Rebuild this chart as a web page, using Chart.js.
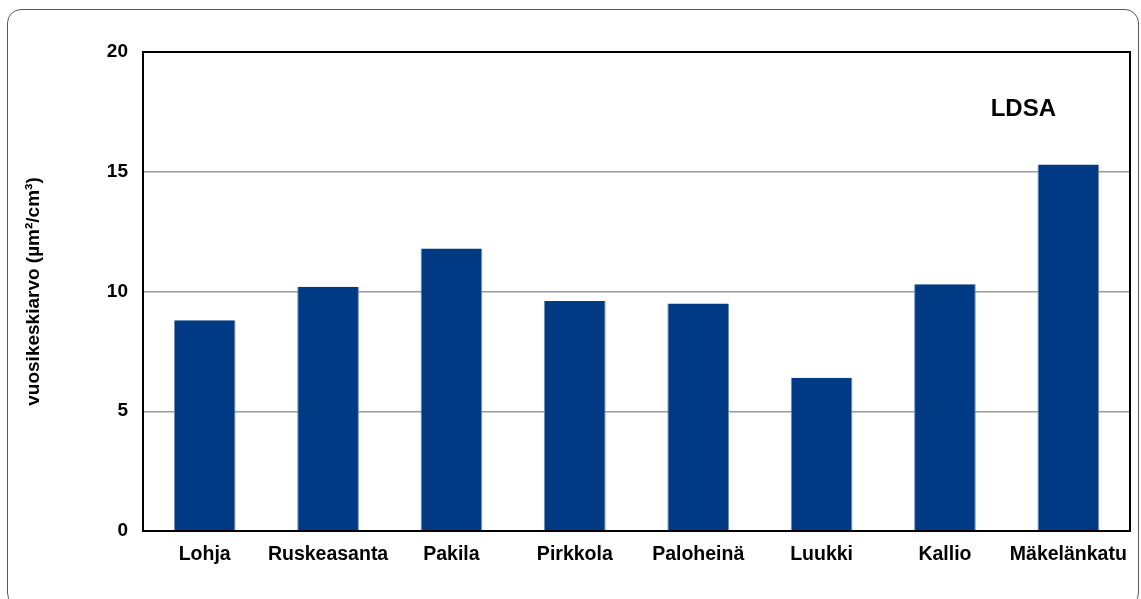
<!DOCTYPE html>
<html lang="fi">
<head>
    <meta charset="UTF-8">
    <title>LDSA vuosikeskiarvo</title>
    <script src="https://cdn.jsdelivr.net/npm/chart.js"></script>
    <style>
        html, body { margin: 0; padding: 0; background: #fff; }
        .wrap { position: relative; width: 1141px; height: 599px; overflow: hidden; }
        .frame {
            position: absolute; left: 7px; top: 9px; width: 1132px; height: 598px;
            border: 1.5px solid #5a5a5a; border-radius: 14px; box-sizing: border-box;
        }
        canvas { position: absolute; left: 0; top: 0; }
    </style>
</head>
<body>
    <div class="wrap">
        <div class="frame"></div>
        <canvas id="ldsaChart" width="1141" height="599"></canvas>
    </div>

    <script>
        // Data
        const stations = ['Lohja', 'Ruskeasanta', 'Pakila', 'Pirkkola', 'Paloheinä', 'Luukki', 'Kallio', 'Mäkelänkatu'];
        const annualMeans = [8.8, 10.2, 11.8, 9.6, 9.5, 6.4, 10.3, 15.3];
        const yTicks = [0, 5, 10, 15, 20];

        const font = 'Liberation Sans, Arial, sans-serif';

        // Black box round the plot area + LDSA label
        const boxPlugin = {
            id: 'boxPlugin',
            afterDraw(chart) {
                const { ctx, chartArea: a } = chart;
                ctx.save();
                ctx.strokeStyle = '#000';
                ctx.lineWidth = 2;
                ctx.strokeRect(a.left, a.top, a.right - a.left, a.bottom - a.top);
                ctx.fillStyle = '#000';
                ctx.font = 'bold 24px ' + font;
                ctx.textAlign = 'center';
                ctx.textBaseline = 'middle';
                const x = chart.scales.x.getPixelForValue(7) - 45;
                const y = chart.scales.y.getPixelForValue(17.6);
                ctx.fillText('LDSA', x, y);
                ctx.restore();
            }
        };

        new Chart(document.getElementById('ldsaChart'), {
            type: 'bar',
            data: {
                labels: stations,
                datasets: [{
                    data: annualMeans,
                    backgroundColor: '#003a85',
                    borderColor: '#6f8fbf',
                    borderWidth: { left: 1, right: 1, top: 0, bottom: 0 },
                    barPercentage: 0.5,
                    categoryPercentage: 1.0
                }]
            },
            options: {
                responsive: false,
                animation: false,
                devicePixelRatio: 1,
                layout: { padding: { left: 0, right: 11, top: 52, bottom: 0 } },
                plugins: {
                    legend: { display: false },
                    tooltip: { enabled: false }
                },
                scales: {
                    x: {
                        grid: { display: false, drawTicks: false },
                        border: { display: false },
                        ticks: {
                            color: '#000',
                            padding: 12,
                            maxRotation: 0,
                            font: { family: font, size: 19.5, weight: 'bold' }
                        },
                        afterFit(scale) { scale.height = 68; }
                    },
                    y: {
                        min: 0,
                        max: 20,
                        afterBuildTicks(scale) { scale.ticks = yTicks.map(v => ({ value: v })); },
                        grid: { color: '#999', lineWidth: 1.5, drawTicks: false },
                        border: { display: false },
                        ticks: {
                            color: '#000',
                            padding: 15,
                            font: { family: font, size: 19, weight: 'bold' }
                        },
                        title: {
                            display: true,
                            text: 'vuosikeskiarvo (µm²/cm³)',
                            color: '#000',
                            padding: { top: 22, bottom: 0 },
                            font: { family: font, size: 19, weight: 'bold' }
                        },
                        afterFit(scale) { scale.width = 143; }
                    }
                }
            },
            plugins: [boxPlugin]
        });
    </script>
</body>
</html>
